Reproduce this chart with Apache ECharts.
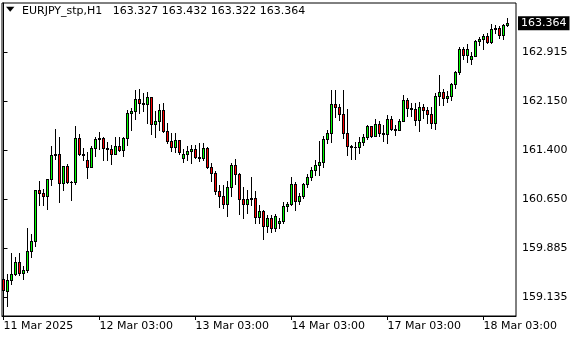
<!DOCTYPE html>
<html><head><meta charset="utf-8">
<script src="https://cdn.jsdelivr.net/npm/echarts@6/dist/echarts.min.js"></script>
<style>html,body{margin:0;padding:0;background:#fff;} #c{width:580px;height:340px;}</style>
</head><body><div id="c"></div>
<script>
const symbolName = 'EURJPY_stp,H1';
const openP = [159.408,159.232,159.397,159.489,159.670,159.510,159.547,159.840,160.003,160.785,
160.744,160.688,160.951,161.326,161.345,160.889,161.156,160.904,160.915,161.583,
161.336,161.248,161.145,161.429,161.568,161.588,161.438,161.413,161.346,161.460,
161.407,161.583,161.978,162.009,162.185,162.132,162.115,162.216,161.808,161.850,
162.020,161.700,161.546,161.454,161.557,161.284,161.336,161.387,161.413,161.299,
161.275,161.429,161.136,161.043,160.775,160.693,160.565,160.827,161.167,161.028,
160.651,160.565,160.642,160.665,160.373,160.461,160.235,160.349,160.204,160.281,
160.307,160.539,160.569,160.873,160.620,160.693,160.873,160.986,161.094,161.171,
161.213,161.568,161.670,162.112,162.061,161.953,161.660,161.464,161.444,161.444,
161.521,161.608,161.773,161.619,161.799,161.660,161.650,161.876,161.722,161.711,
161.855,162.174,162.046,162.030,161.866,162.071,162.020,161.958,161.824,162.236,
162.302,162.200,162.240,162.421,162.611,162.956,162.868,162.802,162.858,163.084,
163.115,163.161,163.064,163.270,163.280,163.177,163.327];
const highP = [159.448,159.489,159.809,159.747,159.818,159.613,160.195,160.102,160.790,160.924,
160.806,160.955,161.464,161.727,161.608,161.160,161.180,160.925,161.773,161.650,
161.434,161.372,161.469,161.608,161.680,161.608,161.526,161.475,161.599,161.599,
161.599,162.020,162.055,162.328,162.344,162.287,162.302,162.225,162.004,162.112,
162.132,161.815,161.665,161.660,161.565,161.413,161.464,161.480,161.480,161.506,
161.515,161.454,161.197,161.083,160.863,160.863,160.929,161.207,161.259,161.043,
160.836,160.785,160.981,160.770,160.554,160.477,160.400,160.400,160.411,160.349,
160.596,160.605,160.991,160.914,160.744,160.889,161.028,161.136,161.248,161.546,
161.619,161.711,162.328,162.328,162.112,162.328,162.031,161.475,161.531,161.599,
161.650,161.788,161.780,161.876,161.850,161.788,161.943,161.927,161.788,161.876,
162.251,162.200,162.132,162.123,162.148,162.112,162.071,162.071,162.287,162.560,
162.339,162.318,162.441,162.622,162.987,162.996,163.033,162.919,163.100,163.151,
163.192,163.203,163.342,163.331,163.316,163.347,163.432];
const lowP = [158.872,159.000,159.331,159.469,159.469,159.417,159.525,159.756,159.921,160.559,
160.549,160.497,160.863,161.259,160.605,160.785,160.895,160.631,160.878,161.320,
161.248,160.975,161.140,161.310,161.418,161.244,161.244,161.187,161.340,161.392,
161.310,161.475,161.711,161.886,161.978,162.004,161.824,161.650,161.608,161.707,
161.685,161.506,161.380,161.377,161.341,161.222,161.248,161.207,161.275,161.233,
161.248,161.120,160.929,160.724,160.519,160.503,160.384,160.693,160.878,160.415,
160.349,160.426,160.554,160.272,160.272,160.029,160.142,160.142,160.157,160.195,
160.281,160.466,160.558,160.477,160.569,160.667,160.827,160.940,161.017,161.017,
161.136,161.506,161.531,161.916,161.866,161.583,161.326,161.259,161.264,161.361,
161.480,161.577,161.608,161.614,161.619,161.546,161.515,161.711,161.634,161.706,
161.850,161.927,161.927,161.788,161.700,161.896,161.824,161.737,161.722,162.097,
162.097,162.148,162.174,162.355,162.575,162.802,162.765,162.730,162.858,163.023,
162.961,163.060,163.058,163.203,163.126,163.111,163.322];
const closeP = [159.243,159.397,159.489,159.670,159.510,159.547,159.840,160.003,160.785,160.744,
160.688,160.951,161.326,161.345,160.889,161.156,160.904,160.915,161.583,161.336,
161.330,161.145,161.429,161.568,161.588,161.438,161.413,161.346,161.460,161.407,
161.583,161.978,162.009,162.185,162.132,162.115,162.216,161.808,161.850,162.020,
161.700,161.546,161.454,161.557,161.377,161.336,161.387,161.413,161.299,161.275,
161.429,161.136,161.043,160.775,160.693,160.565,160.827,161.167,161.028,160.651,
160.565,160.642,160.665,160.373,160.461,160.235,160.349,160.204,160.384,160.307,
160.539,160.569,160.873,160.620,160.693,160.873,160.986,161.094,161.171,161.213,
161.568,161.670,162.112,162.061,161.953,161.660,161.464,161.444,161.444,161.521,
161.608,161.773,161.619,161.799,161.660,161.650,161.876,161.722,161.711,161.855,
162.174,162.046,162.030,161.866,162.071,162.020,161.958,161.824,162.236,162.302,
162.200,162.240,162.421,162.611,162.956,162.868,162.956,162.858,163.084,163.115,
163.161,163.064,163.270,163.280,163.177,163.327,163.364];
const xTickIdx = [0, 24, 48, 72, 96, 120];
const xTickLabels = ['11 Mar 2025', '12 Mar 03:00', '13 Mar 03:00', '14 Mar 03:00', '17 Mar 03:00', '18 Mar 03:00'];
const yTickValues = [162.915, 162.150, 161.400, 160.650, 159.885, 159.135];
const yMin = 158.842, yMax = 163.671;
const xMin = -0.375, xMax = 128.125;

const last = openP.length - 1;
const lastClose = closeP[last];
const header = [openP[last], highP[last], lowP[last], closeP[last]].map(v => v.toFixed(3)).join(' ');
const data = openP.map((o, i) => [i, o, closeP[i], lowP[i], highP[i]]);
const font = 'DejaVu Sans';
const upColor = '#00ff00', downColor = '#ff0000';

function renderCandle(params, api) {
  const i = api.value(0), o = api.value(1), c = api.value(2), l = api.value(3), h = api.value(4);
  const pO = api.coord([i, o]), pC = api.coord([i, c]), pL = api.coord([i, l]), pH = api.coord([i, h]);
  const x = Math.floor(pO[0]) + 0.5;
  const yTop = Math.round(Math.min(pO[1], pC[1]));
  const yBot = Math.round(Math.max(pO[1], pC[1]));
  const yH = Math.round(pH[1]), yL = Math.round(pL[1]);
  const children = [
    {type: 'rect', shape: {x: x - 0.5, y: yH, width: 1, height: Math.max(yL - yH + 1, 1)}, style: {fill: '#000'}},
    {type: 'rect', shape: {x: x - 1.5, y: yTop, width: 3, height: Math.max(yBot - yTop + 1, 1)}, style: {fill: '#000'}}
  ];
  if (yBot - yTop >= 2) {
    children.push({type: 'rect', shape: {x: x - 0.5, y: yTop + 1, width: 1, height: yBot - yTop - 1},
      style: {fill: c >= o ? upColor : downColor}});
  }
  return {type: 'group', children: children};
}

const chart = echarts.init(document.getElementById('c'), null, {renderer: 'canvas'});
chart.setOption({
  animation: false,
  backgroundColor: '#fff',
  textStyle: {fontFamily: font},
  grid: {left: 2, right: 64, top: 3, bottom: 24, show: true, borderColor: '#000', borderWidth: 1, backgroundColor: 'transparent'},
  graphic: [
    {type: 'text', left: 6, top: 6, scaleY: 0.6, style: {text: '\u25BC', fontSize: 11, fill: '#000', fontFamily: font}},
    {type: 'text', left: 22, top: 6, style: {text: symbolName + '   ' + header, fontSize: 11, fill: '#000', fontFamily: font}}
  ],
  xAxis: {
    type: 'value', min: xMin, max: xMax, splitLine: {show: false},
    axisLine: {lineStyle: {color: '#000', width: 1}},
    axisTick: {customValues: xTickIdx, length: 4, lineStyle: {color: '#000'}},
    axisLabel: {customValues: xTickIdx, formatter: v => xTickLabels[xTickIdx.indexOf(Math.round(v))],
      align: 'left', margin: 5, color: '#000', fontSize: 11, fontFamily: font}
  },
  yAxis: {
    type: 'value', position: 'right', min: yMin, max: yMax, splitLine: {show: false},
    axisLine: {show: true, lineStyle: {color: '#000'}},
    axisTick: {show: true, customValues: yTickValues, length: 4, lineStyle: {color: '#000'}},
    axisLabel: {customValues: yTickValues, formatter: v => v.toFixed(3), color: '#000', fontSize: 11, margin: 6, fontFamily: font}
  },
  series: [{
    type: 'custom', data: data, encode: {x: 0, y: [1, 2, 3, 4]}, renderItem: renderCandle, silent: true,
    markLine: {
      silent: true, symbol: 'none', data: [{yAxis: lastClose}],
      lineStyle: {width: 1, color: 'rgba(0,0,0,0)'},
      label: {show: true, position: 'end', distance: 2, formatter: () => lastClose.toFixed(3), backgroundColor: '#000', color: '#fff',
        padding: [2, 3, 1, 3], fontSize: 11, fontFamily: font}
    }
  }]
});
</script></body></html>
